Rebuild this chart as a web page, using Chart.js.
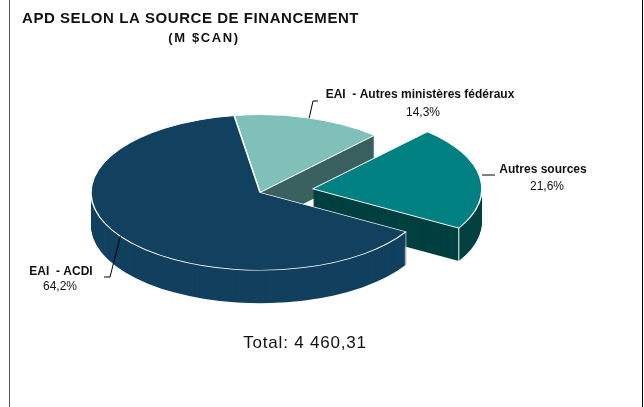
<!DOCTYPE html>
<html lang="fr">
<head>
<meta charset="utf-8">
<title>APD selon la source de financement</title>
<script src="https://cdn.jsdelivr.net/npm/chart.js@4"></script>
<style>
    html, body { margin: 0; padding: 0; background: #fff; }
    canvas { display: block; }
</style>
</head>
<body>
<canvas id="chartApd" width="644" height="407"></canvas>
<script>
// ========================================
// DONNÉES
// ========================================
const categories = ['EAI  - Autres ministères fédéraux', 'Autres sources', 'EAI  - ACDI'];
const valeurs = [14.3, 21.6, 64.2];
const titres = ['APD SELON LA SOURCE DE FINANCEMENT', '(M $CAN)'];
const totalTexte = 'Total: 4 460,31';

// ========================================
// STYLE ET MISE EN PAGE
// ========================================
const couleursDessus = ['#7fc1b8', '#008080', '#12405f'];
const couleursCote = ['#3a605f', '#004040', '#12405f'];
const eclatement = [0, 53.5, 0];

const PIE = {
    cx: 260,
    cy: 192.5,
    rayon: 169,
    aplati: 0.46,
    profondeur: 33,
    rotation: -8.8
};

// position du texte de chaque catégorie + coude du trait de rappel
const etiquettes = [
    { nomX: 420, nomY: 95, pctX: 423, pctY: 112.5, coude: [313, 101], fin: [318, 101] },
    { nomX: 543, nomY: 169.5, pctX: 547, pctY: 186.5, coude: [495, 175], fin: null, horizontal: true },
    { nomX: 61, nomY: 271.5, pctX: 60, pctY: 286.5, coude: [110, 277], fin: [104, 277] }
];

// ========================================
// PLUGIN 3D
// ========================================
function angleMilieu(arc) {
    return (arc.startAngle + arc.endAngle) / 2;
}

function pointBord(arc, angle) {
    return {
        x: arc.x + arc.outerRadius * Math.cos(angle),
        y: (arc.y + arc.outerRadius * Math.sin(angle)) * PIE.aplati
    };
}

const pie3d = {
    id: 'pie3d',
    // place les parts sur l'ellipse et décale la part éclatée
    afterDatasetsUpdate(chart) {
        chart.getDatasetMeta(0).data.forEach((arc, i) => {
            const mid = angleMilieu(arc);
            arc.x = PIE.cx + Math.cos(mid) * eclatement[i];
            arc.y = PIE.cy / PIE.aplati + Math.sin(mid) * eclatement[i];
        });
    },
    beforeDatasetDraw(chart) {
        const ctx = chart.ctx;
        const arcs = chart.getDatasetMeta(0).data;

        // côtés, couche par couche
        ctx.save();
        ctx.scale(1, PIE.aplati);
        arcs.forEach((arc, i) => {
            ctx.fillStyle = couleursCote[i];
            for (let d = PIE.profondeur; d >= 1; d--) {
                const y = arc.y + d / PIE.aplati;
                ctx.beginPath();
                ctx.moveTo(arc.x, y);
                ctx.arc(arc.x, y, arc.outerRadius, arc.startAngle, arc.endAngle);
                ctx.closePath();
                ctx.fill();
            }
        });
        ctx.restore();

        // arêtes verticales claires
        const arete = (arc, angle, couleur) => {
            const p = pointBord(arc, angle);
            ctx.strokeStyle = couleur;
            ctx.lineWidth = 1;
            ctx.beginPath();
            ctx.moveTo(p.x, p.y);
            ctx.lineTo(p.x, p.y + PIE.profondeur);
            ctx.stroke();
        };
        arete(arcs[1], arcs[1].endAngle, '#ffffff');
        arete(arcs[2], arcs[2].startAngle, '#9fb3c2');

        // le dessus est dessiné par Chart.js, aplati
        ctx.save();
        ctx.scale(1, PIE.aplati);
    },
    afterDatasetDraw(chart) {
        chart.ctx.restore();
    },
    afterDraw(chart) {
        const ctx = chart.ctx;
        const arcs = chart.getDatasetMeta(0).data;

        // cadre
        ctx.strokeStyle = '#555555';
        ctx.lineWidth = 1;
        ctx.beginPath();
        ctx.moveTo(9.5, 0);
        ctx.lineTo(9.5, 407);
        ctx.stroke();
        ctx.strokeStyle = '#000000';
        ctx.beginPath();
        ctx.moveTo(642.5, 0);
        ctx.lineTo(642.5, 407);
        ctx.stroke();

        // titre
        ctx.fillStyle = '#111111';
        ctx.textBaseline = 'middle';
        ctx.textAlign = 'left';
        ctx.font = 'bold 15px "Liberation Sans"';
        ctx.letterSpacing = '0.55px';
        ctx.fillText(titres[0], 22, 19);
        ctx.textAlign = 'center';
        ctx.font = 'bold 13px "Liberation Sans"';
        ctx.letterSpacing = '1.6px';
        ctx.fillText(titres[1], 204, 38);
        ctx.letterSpacing = '0px';

        // étiquettes
        etiquettes.forEach((e, i) => {
            const p = pointBord(arcs[i], angleMilieu(arcs[i]));
            ctx.strokeStyle = '#000000';
            ctx.lineWidth = 1;
            ctx.beginPath();
            if (e.horizontal) {
                ctx.moveTo(p.x + 2, e.coude[1]);
            } else {
                ctx.moveTo(p.x, p.y);
            }
            ctx.lineTo(e.coude[0], e.coude[1]);
            if (e.fin) {
                ctx.lineTo(e.fin[0], e.fin[1]);
            }
            ctx.stroke();

            ctx.fillStyle = '#111111';
            ctx.textAlign = 'center';
            ctx.font = 'bold 12px "Liberation Sans"';
            ctx.fillText(categories[i], e.nomX, e.nomY);
            ctx.font = '12px "Liberation Sans"';
            ctx.fillText(valeurs[i].toFixed(1).replace('.', ',') + '%', e.pctX, e.pctY);
        });

        // total
        ctx.font = '17px "Liberation Sans"';
        ctx.letterSpacing = '0.8px';
        ctx.textAlign = 'center';
        ctx.fillText(totalTexte, 305, 343);
        ctx.letterSpacing = '0px';
    }
};

// ========================================
// GRAPHIQUE
// ========================================
new Chart(document.getElementById('chartApd'), {
    type: 'pie',
    data: {
        labels: categories,
        datasets: [{
            data: valeurs,
            backgroundColor: couleursDessus,
            borderColor: '#ffffff',
            borderWidth: 1.5,
            clip: false
        }]
    },
    options: {
        responsive: false,
        animation: false,
        events: [],
        radius: PIE.rayon,
        rotation: PIE.rotation,
        plugins: {
            legend: { display: false },
            tooltip: { enabled: false }
        }
    },
    plugins: [pie3d]
});
</script>
</body>
</html>
